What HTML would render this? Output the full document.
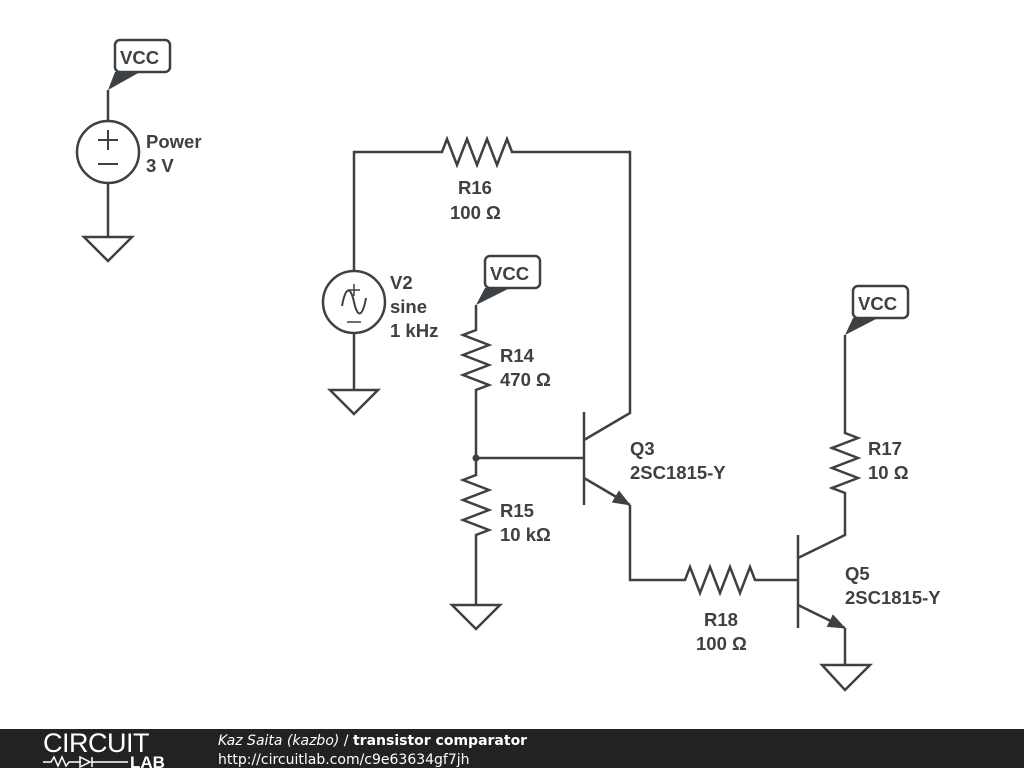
<!DOCTYPE html>
<html><head><meta charset="utf-8"><style>
html,body{margin:0;padding:0;background:#fff;width:1024px;height:768px;overflow:hidden}
svg{display:block}
text{font-family:"Liberation Sans",sans-serif;font-weight:bold;font-size:18.5px;fill:#3d4144}
.ft{font-family:"DejaVu Sans",sans-serif;font-size:14px;fill:#fff}
</style></head><body>
<svg width="1024" height="768" viewBox="0 0 1024 768">
<defs>
<marker id="ar" markerWidth="18" markerHeight="14" refX="17" refY="7" orient="auto" markerUnits="userSpaceOnUse"><path d="M0,0 L18,7 L0,14 Z" fill="#3d4144"/></marker>
</defs>
<g stroke="#3d4144" stroke-width="2.5" fill="none" stroke-linejoin="miter">
<path d="M108,90 V121 M108,183 V237"/>
<circle cx="108" cy="152" r="31"/>
<path d="M98,140 h20 M108,130 v20 M98,164 h20" stroke-width="2"/>
<path d="M84,237 H132 L108,261 Z"/>
<rect x="115" y="40" width="55" height="32" rx="5"/>
<rect x="485" y="256" width="55" height="32" rx="5"/>
<rect x="853" y="286" width="55" height="32" rx="5"/>
<path d="M354,271 V152 H442 l5,-13 l10,26 l10,-26 l10,26 l10,-26 l10,26 l10,-26 l5,13 H630 V413 L584,440"/>
<circle cx="354" cy="302" r="31"/>
<path d="M348,290 h12 M354,284 v12 M347,322 h14" stroke-width="1.5"/>
<path d="M342,306 C346,284 351,288 354,302 C357,316 362,320 366,298" stroke-width="2"/>
<path d="M354,333 V390 M330,390 H378 L354,414 Z"/>
<path d="M476,305 V330 l-13,5 l26,10 l-26,10 l26,10 l-26,10 l26,10 l-13,5 V475 l-13,5 l26,10 l-26,10 l26,10 l-26,10 l26,10 l-13,5 V605"/>
<path d="M452,605 H500 L476,629 Z"/>
<path d="M476,458 H584 M584,412 V505"/>
<path d="M584,478 L630,505" marker-end="url(#ar)"/>
<path d="M630,505 V580 H685 l5,-13 l10,26 l10,-26 l10,26 l10,-26 l10,26 l10,-26 l5,13 H798 M798,535 V628"/>
<path d="M798,558 L845,535 V493 l-13,-5 l26,-10 l-26,-10 l26,-10 l-26,-10 l26,-10 l-13,-5 V335"/>
<path d="M798,605 L845,628" marker-end="url(#ar)"/>
<path d="M845,628 V665 M822,665 H870 L845,690 Z"/>
</g>
<circle cx="476" cy="458" r="3.5" fill="#3d4144"/>
<g fill="#3d4144">
<path d="M108,90 L115,72 L140,72 Z"/>
<path d="M476,305 L485,288 L510,288 Z"/>
<path d="M845,335 L853,318 L878,318 Z"/>
</g>
<text x="120" y="64">VCC</text>
<text x="490" y="280">VCC</text>
<text x="858" y="310">VCC</text>
<text x="146" y="148">Power</text>
<text x="146" y="172">3 V</text>
<text x="458" y="194">R16</text>
<text x="450" y="219">100 Ω</text>
<text x="390" y="289">V2</text>
<text x="390" y="313">sine</text>
<text x="390" y="337">1 kHz</text>
<text x="500" y="362">R14</text>
<text x="500" y="386">470 Ω</text>
<text x="500" y="517">R15</text>
<text x="500" y="541">10 kΩ</text>
<text x="630" y="455">Q3</text>
<text x="630" y="479">2SC1815-Y</text>
<text x="868" y="455">R17</text>
<text x="868" y="479">10 Ω</text>
<text x="845" y="580">Q5</text>
<text x="845" y="604">2SC1815-Y</text>
<text x="704" y="626">R18</text>
<text x="696" y="650">100 Ω</text>
<rect x="0" y="729" width="1024" height="39" fill="#222"/>
<text x="43" y="752" style="font-weight:normal;font-size:27px;fill:#fff;letter-spacing:-0.5px">CIRCUIT</text>
<path d="M43,762 h8 l3,-5 l4,9 l4,-9 l4,9 l3,-4 h12 M80,757 v10 l10,-5 z M92,757 v10 M92,762 h36" stroke="#fff" stroke-width="1.5" fill="none"/>
<text x="130" y="768" style="font-size:17px;fill:#fff">LAB</text>
<text x="218" y="745" class="ft"><tspan style="font-style:italic;font-weight:normal">Kaz Saita (kazbo)</tspan><tspan style="font-weight:normal"> / </tspan><tspan style="font-weight:bold">transistor comparator</tspan></text>
<text x="218" y="764" class="ft" style="font-weight:normal">http://circuitlab.com/c9e63634gf7jh</text>
</svg>
</body></html>
